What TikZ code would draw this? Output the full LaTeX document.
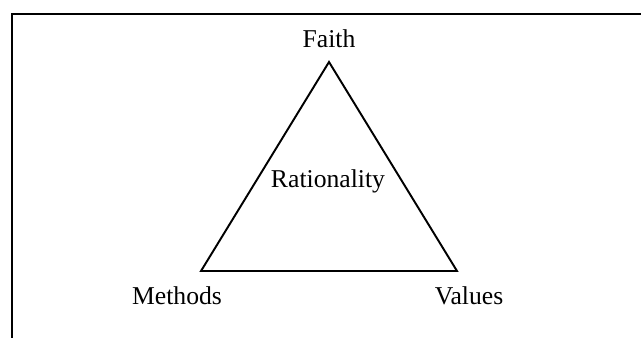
\documentclass[tikz,border=0pt]{standalone}
\usepackage{fontspec}
\setmainfont{Liberation Serif}
\usetikzlibrary{positioning}
\begin{document}
\begin{tikzpicture}[x=1cm,y=1cm,
  lbl/.style={anchor=base,font=\fontsize{14.6}{17}\selectfont}]
\useasboundingbox (0,0) rectangle (12.82,6.76);
\draw[line width=1.4pt] (0.24,0) -- (0.24,6.48) -- (12.82,6.48);

\coordinate (faithpt) at (6.58,5.52);
\coordinate (methodspt) at (4.02,1.34);
\coordinate (valuespt) at (9.14,1.34);
\draw[line width=1.1pt,line join=miter] (faithpt) -- (methodspt) -- (valuespt) -- cycle;

\node[lbl] (faith) at (6.58,5.80) {Faith};
\node[lbl] (rationality) at (6.56,3.00) {Rationality};
\node[lbl] (methods) at (3.54,0.66) {Methods};
\node[lbl] (values) at (9.38,0.66) {Values};
\end{tikzpicture}
\end{document}
